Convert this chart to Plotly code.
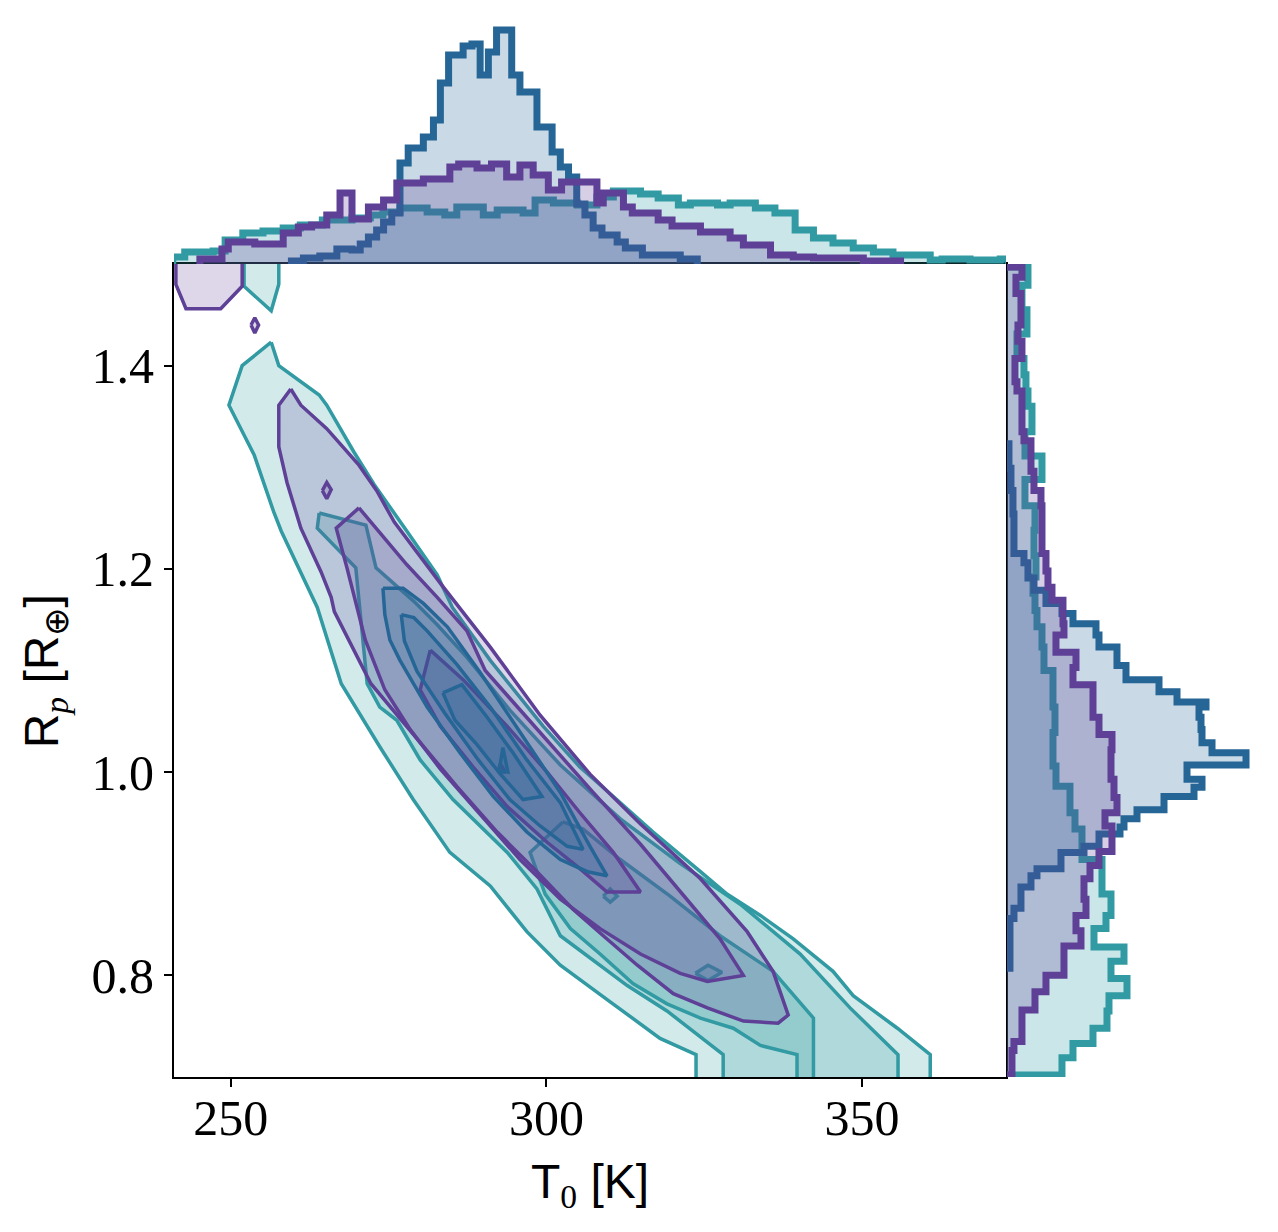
import plotly.graph_objects as go

# colours of the three posteriors
TEAL = (49, 154, 162)
PURPLE = (94, 64, 150)
BLUE = (38, 102, 150)

# ---- top marginal: T0 histograms (bin edges in K, heights in arbitrary units)
top_teal_edges = [240.8, 242.7, 247.2, 249.1, 251.9, 255.1, 258.3, 261.0, 264.5, 269.2,
                  272.1, 274.1, 276.8, 281.1, 283.9, 285.8, 290.0, 292.2, 296.3, 298.2,
                  301.1, 304.9, 308.0, 310.6, 314.9, 317.7, 320.9, 322.8, 327.1, 329.1,
                  333.1, 336.2, 339.4, 342.3, 345.4, 348.6, 351.8, 354.9, 360.8, 362.7,
                  367.1, 371.9, 373.2]
top_teal_counts = [7, 12, 13, 24, 31, 33, 36, 39, 44, 46,
                   49, 52, 56, 52, 49, 57, 49, 54, 51, 64,
                   61, 59, 67, 73, 70, 66, 59, 61, 59, 61,
                   56, 51, 34, 26, 21, 16, 12, 9, 4, 5,
                   4, 5]

top_purple_edges = [245.1, 248.6, 249.6, 253.8, 258.3, 260.7, 262.8, 265.2, 267.3, 269.2,
                    271.8, 274.2, 276.3, 280.5, 284.7, 286.1, 289.0, 291.3, 293.7, 295.8,
                    297.9, 300.3, 302.4, 308.0, 309.0, 312.2, 313.6, 317.7, 319.9, 324.4,
                    329.1, 331.2, 335.5, 339.1, 342.3, 350.2, 356.1]
top_purple_counts = [5, 15, 22, 20, 31, 37, 39, 49, 71, 45,
                     57, 64, 81, 85, 97, 100, 96, 100, 87, 99,
                     89, 74, 82, 61, 71, 57, 51, 44, 38, 32,
                     26, 19, 9, 7, 6, 3]

top_blue_edges = [259.6, 261.5, 264.1, 266.8, 269.2, 270.5, 271.8, 273.1, 274.2, 275.5,
                  276.8, 278.1, 280.5, 282.1, 283.2, 284.5, 286.8, 288.2, 289.5, 290.8,
                  292.1, 294.5, 295.8, 298.5, 300.9, 302.2, 303.5, 304.8, 306.1, 307.4,
                  308.8, 311.2, 312.5, 315.2, 321.2, 323.9]
top_blue_counts = [3, 6, 8, 15, 14, 20, 27, 34, 42, 51,
                   101, 116, 127, 144, 181, 209, 218, 220, 189, 212,
                   234, 189, 172, 137, 112, 97, 87, 60, 49, 36,
                   29, 22, 16, 9, 5]

# ---- right marginal: Rp histograms (bin edges in R_earth, widths in arbitrary units)
right_teal_edges = [1.497, 1.479, 1.455, 1.431, 1.407, 1.391, 1.375, 1.360, 1.335, 1.311,
                    1.288, 1.262, 1.238, 1.213, 1.192, 1.176, 1.159, 1.143, 1.123, 1.100,
                    1.064, 1.039, 1.006, 0.986, 0.960, 0.944, 0.914, 0.880, 0.859, 0.846,
                    0.828, 0.814, 0.797, 0.780, 0.765, 0.748, 0.733, 0.719, 0.702]
right_teal_counts = [21, 15, 20, 10, 17, 19, 21, 25, 18, 35,
                     18, 28, 27, 29, 26, 28, 30, 35, 37, 46,
                     48, 46, 49, 63, 68, 75, 95, 104, 99, 87,
                     117, 104, 120, 102, 100, 86, 66, 55]

right_purple_edges = [1.497, 1.487, 1.471, 1.440, 1.424, 1.407, 1.384, 1.375, 1.335, 1.326,
                      1.296, 1.277, 1.262, 1.215, 1.198, 1.182, 1.169, 1.146, 1.135, 1.118,
                      1.103, 1.086, 1.054, 1.037, 1.022, 0.993, 0.975, 0.960, 0.947, 0.922,
                      0.908, 0.895, 0.875, 0.859, 0.844, 0.829, 0.800, 0.784, 0.766, 0.735,
                      0.726, 0.702]
right_purple_counts = [15, 9, 14, 11, 15, 8, 10, 15, 17, 24,
                       27, 34, 35, 39, 41, 45, 56, 57, 49, 69,
                       66, 86, 92, 105, 104, 107, 110, 98, 105, 92,
                       83, 77, 79, 69, 74, 57, 39, 28, 15, 7,
                       5]

right_blue_edges = [1.323, 1.299, 1.277, 1.254, 1.215, 1.206, 1.191, 1.179, 1.166, 1.156,
                    1.146, 1.135, 1.123, 1.105, 1.091, 1.079, 1.069, 1.064, 1.054, 1.042,
                    1.029, 1.019, 1.007, 0.993, 0.985, 0.976, 0.963, 0.954, 0.946, 0.939,
                    0.927, 0.921, 0.905, 0.898, 0.887, 0.866, 0.856, 0.807]
right_blue_counts = [2, 4, 6, 7, 17, 21, 27, 39, 55, 66,
                     89, 92, 110, 119, 152, 170, 199, 192, 194, 195,
                     205, 239, 180, 195, 187, 157, 130, 117, 113, 92,
                     77, 54, 30, 24, 14, 7, 3]

# ---- joint KDE contour levels, (T0, Rp) vertices
teal_l1 = [(256.4, 1.423), (257.6, 1.400), (264.0, 1.371), (265.2, 1.361), (269.5, 1.315),
           (272.7, 1.283), (277.9, 1.237), (282.7, 1.194), (285.1, 1.162), (291.1, 1.110),
           (299.5, 1.045), (305.3, 1.005), (310.6, 0.976), (316.9, 0.941), (324.4, 0.902),
           (328.6, 0.880), (333.9, 0.859), (339.1, 0.836), (345.4, 0.804), (348.6, 0.780),
           (355.6, 0.748), (360.8, 0.722), (360.8, 0.69), (323.7, 0.69), (323.7, 0.722),
           (318.0, 0.738), (310.1, 0.774), (302.2, 0.810), (296.9, 0.843), (291.1, 0.888),
           (284.7, 0.921), (278.9, 0.973), (273.6, 1.025), (267.5, 1.087), (263.7, 1.162),
           (258.0, 1.237), (256.8, 1.256), (253.7, 1.312), (249.7, 1.361), (251.8, 1.400)]
teal_corner = [(252.1, 1.51), (252.1, 1.478), (256.4, 1.454), (257.6, 1.480), (257.6, 1.51)]
teal_l2 = [(264.0, 1.255), (271.4, 1.243), (273.0, 1.201), (279.0, 1.168), (282.7, 1.145),
           (287.4, 1.113), (294.2, 1.061), (302.2, 1.007), (311.7, 0.954), (321.2, 0.910),
           (330.7, 0.870), (340.2, 0.821), (348.1, 0.768), (355.7, 0.722), (355.7, 0.69),
           (328.0, 0.69), (328.0, 0.722), (319.1, 0.765), (312.8, 0.790), (302.2, 0.839),
           (298.5, 0.885), (293.8, 0.921), (285.2, 0.973), (280.0, 1.012), (276.3, 1.051),
           (273.6, 1.064), (271.6, 1.087), (270.6, 1.155), (269.8, 1.201), (263.7, 1.240)]
teal_l3 = [(302.6, 0.951), (305.8, 0.944), (311.7, 0.914), (319.6, 0.878), (327.5, 0.839),
           (335.9, 0.804), (342.3, 0.758), (342.3, 0.69), (339.7, 0.69), (339.7, 0.722),
           (333.9, 0.731), (329.6, 0.748), (324.4, 0.758), (319.1, 0.772), (313.7, 0.792),
           (308.5, 0.821), (303.8, 0.846), (299.8, 0.880), (297.4, 0.921)]
teal_l4a = [(309.0, 0.878), (310.1, 0.885), (311.2, 0.878), (310.1, 0.872)]
teal_l4b = [(323.6, 0.802), (325.6, 0.810), (327.8, 0.803), (325.6, 0.795)]

purple_corner = [(241.3, 1.51), (241.3, 1.480), (242.9, 1.456), (248.4, 1.456), (251.8, 1.478),
                 (251.8, 1.51)]
purple_dot_a = [(253.2, 1.440), (253.8, 1.447), (254.4, 1.440), (253.8, 1.432)]
purple_dot_b = [(264.5, 1.277), (265.2, 1.285), (265.9, 1.278), (265.2, 1.269)]
purple_l1 = [(259.5, 1.377), (261.1, 1.361), (265.2, 1.338), (270.3, 1.302), (273.2, 1.276),
             (275.9, 1.246), (283.3, 1.185), (291.1, 1.123), (299.0, 1.056), (306.9, 0.998),
             (314.9, 0.949), (324.4, 0.895), (331.8, 0.843), (335.9, 0.804), (338.3, 0.761),
             (336.7, 0.753), (331.2, 0.755), (325.5, 0.768), (320.1, 0.782), (314.4, 0.810),
             (309.0, 0.839), (304.2, 0.865), (298.5, 0.902), (292.2, 0.941), (285.8, 0.986),
             (278.9, 1.037), (272.2, 1.087), (266.4, 1.158), (265.9, 1.172), (264.3, 1.197),
             (261.1, 1.240), (258.9, 1.285), (257.6, 1.320), (257.6, 1.361)]
purple_l2 = [(270.3, 1.260), (277.9, 1.204), (282.7, 1.172), (287.4, 1.139), (290.3, 1.100),
             (299.0, 1.039), (307.4, 0.980), (314.9, 0.929), (322.8, 0.870), (327.5, 0.836),
             (331.2, 0.800), (325.5, 0.794), (321.2, 0.802), (314.9, 0.821), (308.5, 0.846),
             (302.2, 0.875), (295.8, 0.914), (289.5, 0.958), (283.2, 1.003), (278.4, 1.042),
             (274.4, 1.081), (271.3, 1.130), (269.8, 1.168), (268.4, 1.201), (266.7, 1.240)]
purple_l3 = [(281.6, 1.120), (286.8, 1.091), (293.8, 1.045), (300.1, 1.000), (305.3, 0.960),
             (310.6, 0.921), (314.9, 0.882), (309.6, 0.882), (305.3, 0.905), (300.1, 0.931),
             (293.8, 0.966), (288.4, 1.005), (283.2, 1.045), (280.0, 1.081)]
purple_l4 = [(292.3, 1.000), (292.7, 1.008), (293.5, 1.000)]

blue_l1 = [(274.1, 1.181), (277.3, 1.181), (280.5, 1.166), (284.3, 1.143), (289.5, 1.098),
           (295.8, 1.039), (302.2, 0.980), (306.9, 0.927), (309.6, 0.898), (306.5, 0.902),
           (302.2, 0.914), (296.9, 0.941), (291.6, 0.976), (286.3, 1.019), (281.1, 1.064),
           (276.8, 1.110), (275.2, 1.130), (274.4, 1.155)]
blue_l2 = [(277.0, 1.155), (279.0, 1.152), (281.1, 1.139), (285.8, 1.106), (291.1, 1.064),
           (296.9, 1.012), (302.2, 0.970), (305.8, 0.924), (303.3, 0.927), (299.0, 0.947),
           (294.2, 0.973), (289.2, 1.012), (283.9, 1.058), (279.5, 1.099), (277.5, 1.129)]
blue_l3 = [(283.6, 1.078), (286.6, 1.086), (290.6, 1.054), (294.7, 1.019), (299.3, 0.976),
           (296.3, 0.973), (292.7, 0.998), (289.0, 1.027), (285.5, 1.051)]
blue_l4 = [(292.5, 1.001), (293.1, 1.024), (293.9, 1.000)]

x_range = [241.0, 372.8]
y_range = [0.7, 1.5]


def rgba(c, a):
    return "rgba(%d,%d,%d,%s)" % (c[0], c[1], c[2], a)


fig = go.Figure()


def add_level(pts, color, alpha=0.21, width=3.5):
    xs = [p[0] for p in pts] + [pts[0][0]]
    ys = [p[1] for p in pts] + [pts[0][1]]
    fig.add_trace(go.Scatter(x=xs, y=ys, mode="lines", fill="toself",
                             fillcolor=rgba(color, alpha),
                             line=dict(color=rgba(color, 1), width=width),
                             hoverinfo="skip", showlegend=False))


def add_top_hist(edges, counts, color):
    xs = [edges[0]] + edges[:-1] + [edges[-1], edges[-1]]
    ys = [0] + counts + [counts[-1], 0]
    fig.add_trace(go.Scatter(x=xs, y=ys, mode="lines", line_shape="hv",
                             fill="tozeroy", fillcolor=rgba(color, 0.25),
                             line=dict(color=rgba(color, 1), width=7),
                             xaxis="x2", yaxis="y2", hoverinfo="skip", showlegend=False))


def add_right_hist(edges, counts, color):
    ys = [edges[0]] + edges[:-1] + [edges[-1], edges[-1]]
    xs = [0] + counts + [counts[-1], 0]
    fig.add_trace(go.Scatter(x=xs, y=ys, mode="lines", line_shape="vh",
                             fill="tozerox", fillcolor=rgba(color, 0.25),
                             line=dict(color=rgba(color, 1), width=7),
                             xaxis="x3", yaxis="y3", hoverinfo="skip", showlegend=False))


# contours: teal, then purple, then blue
for poly in [teal_l1, teal_corner, teal_l2, teal_l3, teal_l4a, teal_l4b]:
    add_level(poly, TEAL)
for poly in [purple_corner, purple_dot_a, purple_dot_b, purple_l1, purple_l2, purple_l3, purple_l4]:
    add_level(poly, PURPLE)
for poly in [blue_l1, blue_l2, blue_l3, blue_l4]:
    add_level(poly, BLUE)

# marginals
add_top_hist(top_teal_edges, top_teal_counts, TEAL)
add_top_hist(top_blue_edges, top_blue_counts, BLUE)
add_top_hist(top_purple_edges, top_purple_counts, PURPLE)
add_right_hist(right_teal_edges, right_teal_counts, TEAL)
add_right_hist(right_blue_edges, right_blue_counts, BLUE)
add_right_hist(right_purple_edges, right_purple_counts, PURPLE)

tick_font = dict(family="Liberation Serif", size=50, color="black")
axis_common = dict(showgrid=False, zeroline=False, showline=True, mirror=True,
                   linecolor="black", linewidth=2, ticks="outside", ticklen=8,
                   tickwidth=1.5, tickcolor="black", tickfont=tick_font)

fig.update_layout(
    width=1278, height=1232,
    margin=dict(l=174, r=0, t=0, b=155),
    paper_bgcolor="white", plot_bgcolor="rgba(0,0,0,0)",
    xaxis=dict(domain=[0, 0.7536], range=x_range, tickvals=[250, 300, 350],
               ticktext=["250", "300", "350"], ticklabelstandoff=-12, **axis_common),
    yaxis=dict(domain=[0, 0.7549], range=y_range, tickvals=[0.8, 1.0, 1.2, 1.4],
               ticktext=["0.8", "1.0", "1.2", "1.4"], **axis_common),
    xaxis2=dict(domain=[0, 0.7536], range=x_range, visible=False, anchor="y2"),
    yaxis2=dict(domain=[0.7549, 0.9777], range=[0, 240], visible=False, anchor="x2"),
    xaxis3=dict(domain=[0.7545, 0.9810], range=[0, 250], visible=False, anchor="y3"),
    yaxis3=dict(domain=[0, 0.7549], range=y_range, visible=False, anchor="x3"),
    annotations=[
        dict(text="T<sub><span style='font-family:Liberation Serif'>0</span></sub> [K]",
             xref="paper", yref="paper", x=0.3768, y=-0.1003,
             xanchor="center", yanchor="middle", showarrow=False,
             font=dict(family="Liberation Sans", size=48, color="black")),
        dict(text="R<sub><span style='font-family:Liberation Serif'><i>p</i></span></sub> [R<sub>⊕</sub>]",
             xref="paper", yref="paper",
             x=-0.1165, y=0.3770, xanchor="center", yanchor="middle", textangle=-90,
             showarrow=False, font=dict(family="Liberation Sans", size=48, color="black")),
    ],
)

fig.write_html("out.html", config={"displayModeBar": False},
               post_script="document.body.style.margin='0';")
